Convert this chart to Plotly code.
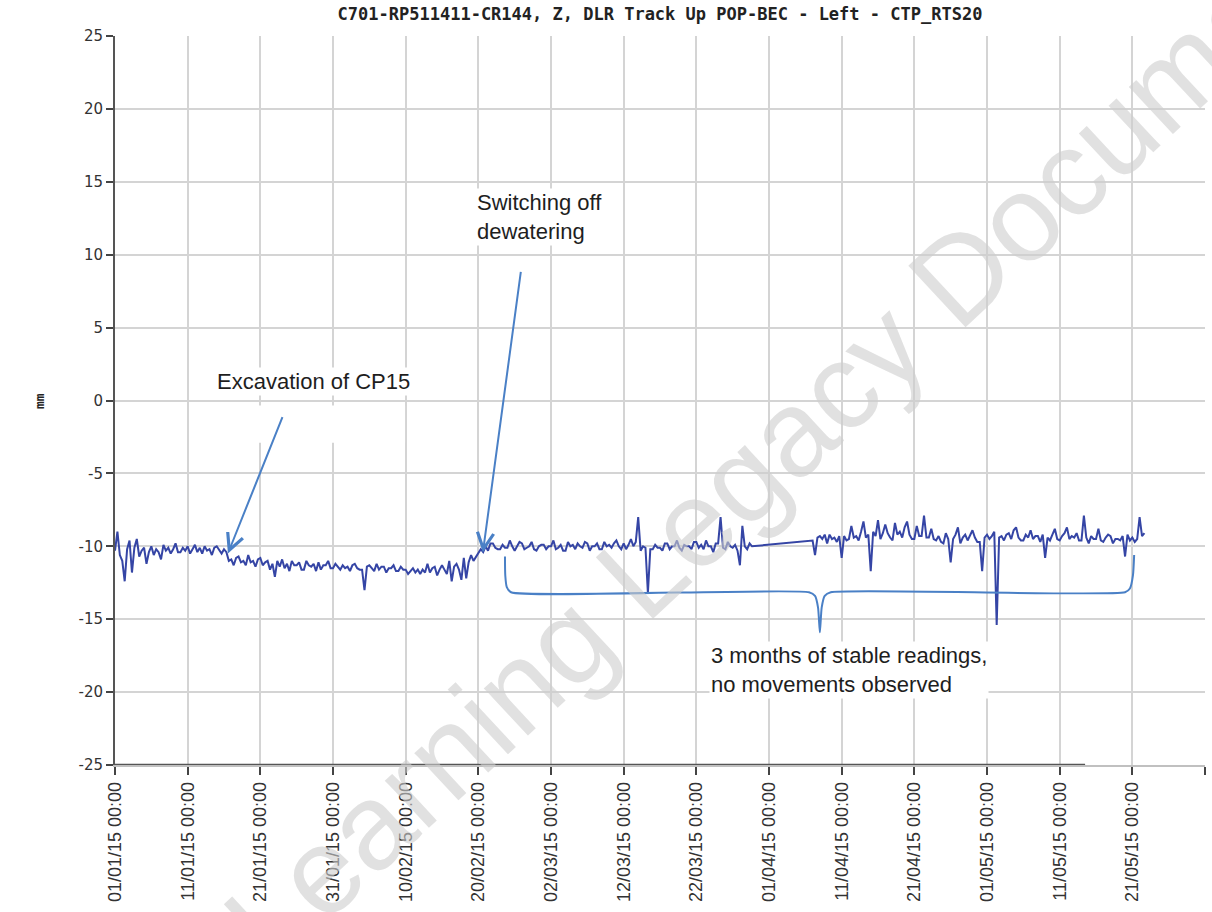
import pandas as pd
import plotly.graph_objects as go

TITLE = "C701-RP511411-CR144, Z, DLR Track Up POP-BEC - Left - CTP_RTS20"
Y_LABEL = "mm"
Y_TICKS = [-25, -20, -15, -10, -5, 0, 5, 10, 15, 20, 25]
Y_TICK_TEXT = ["-25", "-20", "-15", "-10", "-5", "0", "5", "10", "15", "20", "25"]

# readings every 8 hours, first block (01/01 -> 29/03)
block_a_start = "2015-01-01 00:00"
block_a_mm = [
    -10.3, -9.0, -10.6,  -11.0, -12.4, -10.2,  -9.6, -11.8, -10.1,  -9.5, -10.7, -10.3,
    -10.1, -11.2, -10.4,  -10.0, -10.6, -10.2,  -10.4, -10.9, -9.9,  -10.3, -10.1, -10.5,
    -10.2, -9.8, -10.4,  -10.4, -10.1, -10.3,  -10.0, -10.5, -10.2,  -9.9, -10.4, -10.1,
    -10.5, -10.0, -10.3,  -10.2, -10.6, -10.1,  -10.0, -10.3, -10.5,  -10.2, -10.4, -11.0,
    -10.9, -11.3, -10.8,  -10.7, -11.1, -11.0,  -11.3, -10.6, -11.1,  -11.0, -11.4, -10.9,
    -10.8, -11.3, -11.1,  -11.0, -11.6, -11.2,  -12.1, -11.0, -11.4,  -10.9, -11.5, -11.2,
    -11.7, -11.0, -11.3,  -11.3, -11.1, -11.6,  -11.6, -11.0, -11.3,  -11.4, -11.2, -11.7,
    -11.1, -11.6, -11.3,  -11.3, -11.0, -11.5,  -11.5, -11.2, -11.4,
    -11.6, -11.3, -11.5,  -11.4, -11.7, -11.3,  -11.2, -11.5, -11.6,  -11.6, -13.0, -11.4,
    -11.3, -11.5, -11.7,  -11.2, -11.6, -11.4,  -11.4, -11.8, -11.5,  -11.5, -11.3, -11.7,
    -11.7, -11.4, -11.6,  -11.6, -11.9, -11.7,  -11.5, -11.8, -11.6,  -11.9, -11.6, -11.8,
    -11.2, -11.8, -11.5,  -11.4, -12.0, -11.6,  -11.3, -11.6, -11.9,  -11.0, -12.4, -11.4,
    -11.2, -11.6, -12.3,  -10.8, -12.2, -11.1,  -10.6, -11.0, -10.7,  -10.5, -10.2, -10.4,
    -10.0, -10.3, -9.8,  -9.8, -10.1, -10.2,  -10.2, -9.9, -10.1,  -10.1, -9.6, -10.0,
    -10.3, -10.0, -9.7,  -9.8, -10.2, -10.1,  -10.0, -9.7, -10.2,  -10.3, -10.0, -9.9,
    -9.9, -10.2, -10.0,  -10.0, -9.6, -10.2,  -10.1, -9.9, -10.3,  -10.3, -9.7, -10.0,
    -9.9, -10.2, -9.8,  -10.0, -10.1, -9.7,  -9.8, -10.3, -10.0,  -10.0, -9.8, -10.2,
    -10.2, -9.7, -10.0,  -9.9, -10.1, -9.8,  -9.6, -10.0, -10.2,  -9.8, -10.2, -9.9,
    -9.5, -10.0, -9.7,  -8.0, -10.3, -10.0,  -10.1, -13.2, -10.2,  -10.2, -9.9, -10.1,
    -10.1, -10.3, -9.8,  -9.8, -10.2, -10.0,  -10.0, -9.6, -10.1,  -10.3, -9.9, -10.0,
    -10.0, -10.2, -9.7,  -9.7, -10.1, -9.9,  -10.2, -9.6, -10.0,  -10.0, -10.4, -9.8,
    -9.8, -8.0, -10.1,  -10.2, -9.7, -10.0,  -10.1, -9.9, -10.3,  -11.3, -8.6, -10.0,
    -10.2, -9.8, -10.0,
]

# readings every 8 hours, second block (07/04 -> 22/05)
block_b_start = "2015-04-07 00:00"
block_b_mm = [
    -9.6, -10.6, -9.4,  -9.3, -9.5, -9.2,  -9.8, -9.2, -9.5,  -9.4, -9.7, -9.3,
    -10.8, -9.3, -9.6,  -9.5, -8.6, -9.4,  -9.3, -9.6, -9.0,  -8.3, -9.4, -9.2,
    -11.7, -9.0, -9.3,  -8.2, -9.5, -9.1,  -8.5, -9.1, -9.4,  -9.6, -8.4, -9.2,
    -9.0, -9.4, -8.7,  -8.3, -9.2, -9.5,  -9.5, -8.6, -9.3,  -9.3, -7.9, -9.4,
    -9.4, -8.8, -9.5,  -9.6, -9.3, -9.7,  -9.8, -9.1, -9.5,  -11.1, -9.5, -9.2,
    -8.7, -9.8, -9.4,  -9.2, -9.6, -9.3,  -8.9, -9.4, -9.7,  -9.7, -11.7, -9.4,
    -9.2, -9.5, -9.3,  -9.0, -15.4, -9.4,  -9.3, -9.6, -9.2,  -9.1, -9.5, -8.9,
    -8.7, -9.4, -9.6,  -9.6, -9.2, -9.4,  -8.9, -9.5, -9.3,  -9.3, -9.7, -9.2,
    -10.8, -9.4, -9.6,  -9.2, -8.8, -9.5,  -9.6, -9.3, -9.1,  -8.7, -9.5, -9.3,
    -9.4, -9.1, -9.6,  -9.6, -7.9, -9.4,  -9.8, -9.3, -9.5,  -9.5, -8.8, -9.6,
    -9.7, -9.4, -9.2,  -9.3, -9.8, -9.5,  -9.5, -9.6, -9.3,  -10.7, -9.2, -9.6,
    -9.4, -9.7, -9.5,  -8.0, -9.3, -9.1,
]

times = list(pd.date_range(block_a_start, periods=len(block_a_mm), freq="8h")) + \
        list(pd.date_range(block_b_start, periods=len(block_b_mm), freq="8h"))
values = block_a_mm + block_b_mm

SERIES_BLUE = "#3545a5"
NOTE_BLUE = "#4a80c6"
TEXT_DARK = "#1e1e1e"

fig = go.Figure()

fig.add_trace(go.Scatter(
    x=times, y=values, mode="lines",
    line=dict(color=SERIES_BLUE, width=2),
    hoverinfo="skip", showlegend=False,
))

# curly brace marking the stable period
brace_x = ["2015-02-23 16:00", "2015-02-23 17:00", "2015-02-23 22:00", "2015-02-24 12:00",
           "2015-04-06 12:00", "2015-04-07 08:00", "2015-04-07 18:00", "2015-04-08 00:00",
           "2015-04-08 06:00", "2015-04-08 16:00", "2015-04-09 12:00",
           "2015-05-20 00:00", "2015-05-20 16:00", "2015-05-21 02:00", "2015-05-21 06:00"]
brace_y = [-10.7, -12.0, -12.8, -13.15,
           -13.15, -13.4, -14.2, -15.9,
           -14.2, -13.4, -13.15,
           -13.15, -12.9, -12.0, -10.6]
fig.add_trace(go.Scatter(
    x=brace_x, y=brace_y, mode="lines",
    line=dict(color=NOTE_BLUE, width=2, shape="spline", smoothing=0.6),
    hoverinfo="skip", showlegend=False,
))

note_font = dict(family="Liberation Sans, Arial", size=22, color=TEXT_DARK)

annotations = [
    # watermark
    dict(text="Learning Legacy Document", xref="paper", yref="paper", x=0.62, y=0.455,
         showarrow=False, textangle=-43,
         font=dict(family="Liberation Sans, Arial", size=122, color="rgba(205,205,205,0.6)")),
    # notes
    dict(text="Excavation of CP15", x="2015-01-14 18:00", y=1.3, xanchor="left",
         yanchor="middle", showarrow=False, font=note_font, bgcolor="white"),
    dict(text="Switching off<br>dewatering", x="2015-02-19 14:00", y=12.6, xanchor="left",
         yanchor="middle", align="left", showarrow=False, font=note_font, bgcolor="white"),
    dict(text="3 months of stable readings,<br>no movements observed", x="2015-03-23 18:00",
         y=-18.45, xanchor="left", yanchor="middle", align="left", showarrow=False,
         font=note_font, bgcolor="white"),
    # arrows
    dict(text="", x="2015-01-16 13:00", y=-10.49, ax="2015-01-24 03:00", ay=-1.03,
         xref="x", yref="y", axref="x", ayref="y", showarrow=True,
         arrowhead=5, arrowsize=1.6, arrowwidth=2, arrowcolor=NOTE_BLUE, standoff=0),
    dict(text="", x="2015-02-20 15:00", y=-10.43, ax="2015-02-25 21:00", ay=8.92,
         xref="x", yref="y", axref="x", ayref="y", showarrow=True,
         arrowhead=5, arrowsize=1.6, arrowwidth=2, arrowcolor=NOTE_BLUE, standoff=0),
    # axis label
    dict(text="<b>" + Y_LABEL + "</b>", xref="paper", yref="paper", x=-0.078, y=0.5,
         showarrow=False, textangle=-90,
         font=dict(family="DejaVu Sans Mono", size=13, color="#222")),
]

shapes = [
    dict(type="rect", xref="x", yref="y", x0="2015-01-14 02:00", x1="2015-02-09 22:00",
         y0=-0.35, y1=-2.9, fillcolor="white", line=dict(width=0), layer="above"),
    dict(type="line", xref="x", yref="y", x0="2015-01-01", x1="2015-05-14 12:00",
         y0=-25, y1=-25, line=dict(color="#555555", width=2.5), layer="above"),
]

fig.update_layout(
    width=1212, height=912,
    margin=dict(l=115, r=7, t=36, b=147),
    paper_bgcolor="white", plot_bgcolor="white",
    title=dict(text="<b>" + TITLE + "</b>", x=0.5, xref="paper", xanchor="center",
               y=1 - 14 / 912, yref="container", yanchor="middle",
               font=dict(family="DejaVu Sans Mono", size=17, color="#222")),
    annotations=annotations,
    shapes=shapes,
    showlegend=False,
)

fig.update_xaxes(
    type="date", range=["2015-01-01", "2015-05-31"],
    tick0="2015-01-01", dtick=10 * 24 * 3600 * 1000,
    tickformat="%d/%m/%y %H:%M", tickangle=-90,
    tickfont=dict(family="Liberation Sans, Arial", size=18, color="#333"),
    ticks="outside", ticklen=8, tickcolor="#444", tickwidth=1.5,
    showgrid=True, gridcolor="#d4d4d4", gridwidth=1.5,
    showline=True, linecolor="#c0c0c0", linewidth=1.5,
    zeroline=False,
)
fig.update_yaxes(
    range=[-25, 25], tickmode="array", tickvals=Y_TICKS, ticktext=Y_TICK_TEXT,
    tickfont=dict(family="DejaVu Sans", size=15, color="#333"),
    ticks="outside", ticklen=7, tickcolor="#444", tickwidth=1.5,
    showgrid=True, gridcolor="#d4d4d4", gridwidth=1.5,
    showline=True, linecolor="#555555", linewidth=2,
    zeroline=False,
)

fig.write_html("out.html")
